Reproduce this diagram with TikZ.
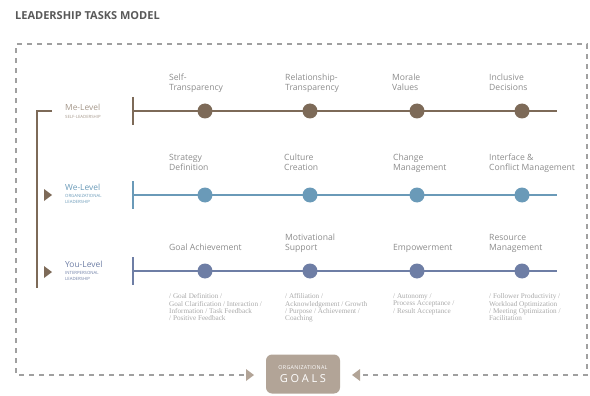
\documentclass[tikz,border=0pt]{standalone}
\usepackage{fontspec}
\setmainfont{Open Sans}
\newfontfamily\notefont{Liberation Serif}
\usetikzlibrary{positioning}
\definecolor{mecol}{HTML}{7D6A58}
\definecolor{wecol}{HTML}{6A9AB8}
\definecolor{youcol}{HTML}{6E7EA5}
\definecolor{goalcol}{HTML}{B2A497}
\definecolor{framecol}{HTML}{A0A0A0}
\definecolor{labelcol}{HTML}{8C8C8C}
\tikzset{
  task/.style={anchor=base west,align=left,inner sep=0pt,text=labelcol,
    font=\fontsize{8.6}{10}\selectfont},
  note/.style={anchor=north west,align=left,inner sep=0pt,text=labelcol!75,
    font=\notefont\fontsize{7.2}{7.4}\selectfont},
  levelname/.style={anchor=base west,align=left,inner sep=0pt,
    font=\fontsize{8.4}{9}\selectfont},
  levelsub/.style={anchor=base west,align=left,inner sep=0pt,
    font=\fontsize{4.3}{5.6}\selectfont},
  dot/.style={circle,fill=#1,minimum size=15pt,inner sep=0pt},
  rowline/.style={draw=#1,line width=2pt},
  tick/.style={draw=#1,line width=2.6pt}
}
\begin{document}
\begin{tikzpicture}[x=1pt,y=-1pt]
\useasboundingbox (0,0) rectangle (590,396);

\node[anchor=west,inner sep=0pt,text=black!65,font=\bfseries\fontsize{11}{12}\selectfont]
  (title) at (15,16) {LEADERSHIP TASKS MODEL};

% goals box and dashed frame
\node[fill=goalcol,rounded corners=6pt,minimum width=74pt,minimum height=39pt,
  align=center,text=white,inner sep=0pt] (goals) at (303,374)
  {{\addfontfeatures{LetterSpace=5}\fontsize{5.4}{6}\selectfont ORGANIZATIONAL}\\[1pt]
   {\addfontfeatures{LetterSpace=25}\fontsize{11}{12}\selectfont GOALS}};
\coordinate (goal-l) at (254,375);
\coordinate (goal-r) at (352,375);
\fill[goalcol] (goal-l) -- ++(-8,-6) -- ++(0,12) -- cycle;
\fill[goalcol] (goal-r) -- ++(8,-6) -- ++(0,12) -- cycle;
\draw[framecol,line width=1.2pt,dash pattern=on 5pt off 5pt]
  (244,375) -- (16,375) -- (16,44) -- (587,44) -- (587,375) -- (362,375);

% level bracket
\draw[mecol,line width=2.6pt] (52,111) -- (37,111) -- (37,288);
\fill[mecol] (52,195) -- ++(-8,-6) -- ++(0,12) -- cycle;
\fill[mecol] (52,272) -- ++(-8,-6) -- ++(0,12) -- cycle;

% level names
\node[levelname,text=mecol!70] (me) at (65,111) {Me-Level};
\node[levelsub,text=mecol!70] (me-sub) at (65,119) {SELF-LEADERSHIP};
\node[levelname,text=wecol] (we) at (65,190) {We-Level};
\node[levelsub,text=wecol] (we-sub) at (65,203.5) {ORGANIZATIONAL\\LEADERSHIP};
\node[levelname,text=youcol] (you) at (65,267) {You-Level};
\node[levelsub,text=youcol] (you-sub) at (65,280.5) {INTERPERSONAL\\LEADERSHIP};

% Me-Level row
\coordinate (me-start) at (133,111);
\coordinate (me-end) at (557,111);
\draw[rowline=mecol] (me-start) -- (me-end);
\draw[tick=mecol] (133,97) -- (133,125);
\node[dot=mecol] (me1) at (205,111) {};
\node[dot=mecol] (me2) at (310,111) {};
\node[dot=mecol] (me3) at (417,111) {};
\node[dot=mecol] (me4) at (522,111) {};
\node[task] at (169,91) {Self-\\Transparency};
\node[task] at (285,91) {Relationship-\\Transparency};
\node[task] at (392,91) {Morale\\Values};
\node[task] at (489,91) {Inclusive\\Decisions};

% We-Level row
\coordinate (we-start) at (133,195);
\coordinate (we-end) at (557,195);
\draw[rowline=wecol] (we-start) -- (we-end);
\draw[tick=wecol] (133,181) -- (133,209);
\node[dot=wecol] (we1) at (205,195) {};
\node[dot=wecol] (we2) at (310,195) {};
\node[dot=wecol] (we3) at (417,195) {};
\node[dot=wecol] (we4) at (522,195) {};
\node[task] at (169,171) {Strategy\\Definition};
\node[task] at (284,171) {Culture\\Creation};
\node[task] at (393,171) {Change\\Management};
\node[task] at (489,171) {Interface \&\\Conflict Management};

% You-Level row
\coordinate (you-start) at (133,271);
\coordinate (you-end) at (557,271);
\draw[rowline=youcol] (you-start) -- (you-end);
\draw[tick=youcol] (133,257) -- (133,285);
\node[dot=youcol] (you1) at (205,271) {};
\node[dot=youcol] (you2) at (310,271) {};
\node[dot=youcol] (you3) at (417,271) {};
\node[dot=youcol] (you4) at (522,271) {};
\node[task] at (169,251) {Goal Achievement};
\node[task] at (285,251) {Motivational\\Support};
\node[task] at (393,251) {Empowerment};
\node[task] at (489,251) {Resource\\Management};

\node[note] at (169,293.5) {/ Goal Definition /\\Goal Clarification / Interaction /\\Information / Task Feedback\\/ Positive Feedback};
\node[note] at (285,293.5) {/ Affiliation /\\Acknowledgement / Growth\\/ Purpose / Achievement /\\Coaching};
\node[note] at (393,293.5) {/ Autonomy /\\Process Acceptance /\\/ Result Acceptance};
\node[note] at (489,293.5) {/ Follower Productivity /\\Workload Optimization\\/ Meeting Optimization /\\Facilitation};
\end{tikzpicture}
\end{document}
